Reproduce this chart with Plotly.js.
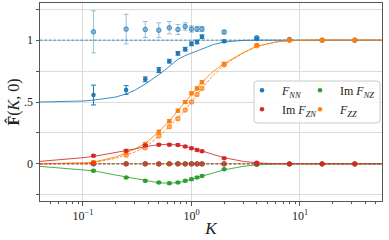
<!DOCTYPE html>
<html><head><meta charset="utf-8">
<script src="https://cdn.plot.ly/plotly-3.0.1.min.js"></script>
<style>html,body{margin:0;padding:0;background:#fff}#c{width:389px;height:240px}</style>
</head><body><div id="c"></div>
<script>
// sample points
var K = [0.125,0.25,0.375,0.5,0.625,0.75,0.875,1.0,1.125,1.25,2,4,8,16,32];
var fnn = [0.556,0.597,0.683,0.758,0.830,0.893,0.927,0.970,0.985,1.027,0.990,1.010,1.000,1.000,1.000];
var fnnErr = [0.08,0.035,0.02,0.02,0.015,0.015,0.015,0.015,0.015,0.015,0.01,0.008,0.005,0.004,0.004];
var fnnAlt = [1.067,1.089,1.086,1.080,1.100,1.086,1.110,1.090,1.090,1.090,1.065,1.020,1.005,1.000,1.000];
var fnnAltErr = [0.17,0.12,0.065,0.06,0.05,0.04,0.03,0.025,0.02,0.02,0.015,0.01,0.006,0.004,0.004];
var fzz = [0.015,0.09,0.16,0.26,0.345,0.43,0.50,0.57,0.61,0.66,0.81,0.96,1.0,1.0,1.0];
var fzzAlt = [0.01,0.07,0.13,0.225,0.30,0.365,0.435,0.50,0.56,0.61,0.80,0.955,1.0,1.0,1.0];
var fzzErr = [0.008,0.01,0.012,0.012,0.012,0.012,0.012,0.012,0.012,0.012,0.01,0.008,0.005,0.004,0.004];
var imfzn = [0.065,0.107,0.148,0.155,0.155,0.153,0.140,0.127,0.113,0.103,0.046,0.010,0.0,0.0,0.0];
var imfznAlt = [0.002,0.0,0.001,0.0,0.0,-0.001,0.0,0.001,0.0,0.0,0.0,0.0,0.0,0.0,0.0];
var imfnz = [-0.056,-0.110,-0.137,-0.150,-0.156,-0.150,-0.137,-0.124,-0.110,-0.097,-0.043,-0.008,0,0,0];
var imfnzAlt = [0.0,0.001,0.0,0.0,0.002,0.003,0.0,0.0,0.0,0.0,0.0,0.0,0,0,0];
var imErr = [0.008,0.008,0.008,0.008,0.008,0.008,0.008,0.008,0.008,0.008,0.006,0.005,0.004,0.004,0.004];

// theory curves
var lineK = [0.04,0.07,0.1,0.125,0.2,0.25,0.3,0.375,0.5,0.6,0.75,0.875,1.0,1.25,1.6,2,3,4,6,8,12,57];
var fnnLine = [0.500,0.502,0.508,0.515,0.540,0.565,0.595,0.645,0.720,0.775,0.845,0.875,0.895,0.930,0.965,0.985,0.998,1.0,1.0,1.0,1.0,1.0];
var fnnAltLine = [1,1,1,1,1,1,1,1,1,1,1,1,1,1,1,1,1,1,1,1,1,1];
var fzzLine = [0.000,0.003,0.008,0.015,0.055,0.090,0.120,0.165,0.260,0.330,0.430,0.500,0.565,0.660,0.750,0.810,0.900,0.950,0.985,0.995,1.0,1.0];
var fzzAltLine = [0.000,0.002,0.005,0.010,0.045,0.070,0.095,0.135,0.220,0.285,0.370,0.435,0.500,0.610,0.720,0.800,0.895,0.950,0.985,0.995,1.0,1.0];
var imfznLine = [0.020,0.035,0.050,0.060,0.090,0.105,0.120,0.140,0.155,0.158,0.153,0.142,0.130,0.105,0.075,0.050,0.020,0.008,0.001,0,0,0];
var imfnzLine = [-0.020,-0.035,-0.047,-0.056,-0.090,-0.105,-0.120,-0.138,-0.153,-0.155,-0.152,-0.140,-0.127,-0.100,-0.072,-0.048,-0.020,-0.008,-0.001,0,0,0];
var zeroLine = [0,0,0,0,0,0,0,0,0,0,0,0,0,0,0,0,0,0,0,0,0,0];

var names = ['<i>F</i><sub><i>NN</i></sub>','Im <i>F</i><sub><i>ZN</i></sub>','Im <i>F</i><sub><i>NZ</i></sub>','<i>F</i><sub><i>ZZ</i></sub>'];
var xTickVals = [0.1,1,10];
var xTickText = ['10<sup>\u22121</sup>','10<sup>0</sup>','10<sup>1</sup>'];
var yTickVals = [0,0.5,1];
var yTickText = ['0','.5','1'];
var yMinorVals = [-0.25,0.25,0.75,1.25];

var C = {b:'#1f77b4', o:'#ff7f0e', g:'#2ca02c', r:'#d62728'};
var CL = {b:'rgba(31,119,180,0.85)', o:'rgba(255,127,14,0.85)', g:'rgba(44,160,44,0.85)', r:'rgba(214,39,40,0.85)'};
var CA = {b:'rgba(31,119,180,0.45)', o:'rgba(255,127,14,0.45)', g:'rgba(44,160,44,0.45)', r:'rgba(214,39,40,0.45)'};

function line(y, c, dash){
  return {x:lineK, y:y, mode:'lines', type:'scatter', showlegend:false, hoverinfo:'skip',
          line:{color:c, width:1, dash:dash?'3px,1.5px':'solid'}};
}
function pts(y, err, c, alt, name, leg){
  var t = {x:K, y:y, mode:'markers', type:'scatter',
    marker:{size:4.5, color: alt ? CA[c] : C[c], line:{width: alt?0.8:0, color:C[c]}},
    error_y:{type:'data', array:err, visible:true, color: alt ? CA[c] : C[c], thickness:1, width:2.5},
    showlegend: !!name};
  if (name){ t.name = name; t.legend = leg; }
  return t;
}

var data = [
  line(fnnAltLine, CL.b, true), line(fnnLine, CL.b, false),
  line(zeroLine, CL.g, true), line(imfnzLine, CL.g, false),
  line(fzzAltLine, CL.o, true), line(fzzLine, CL.o, false),
  line(zeroLine, CL.r, true), line(imfznLine, CL.r, false),
  pts(fnnAlt, fnnAltErr, 'b', true), pts(fnn, fnnErr, 'b', false, names[0], 'legend'),
  pts(imfnzAlt, imErr, 'g', true), pts(imfnz, imErr, 'g', false, names[2], 'legend2'),
  pts(fzzAlt, fzzErr, 'o', true), pts(fzz, fzzErr, 'o', false, names[3], 'legend2'),
  pts(imfznAlt, imErr, 'r', true), pts(imfzn, imErr, 'r', false, names[1], 'legend')
];

var FAM = 'Liberation Serif';
var font = {family:FAM, size:12, color:'#222'};
var legBase = {bgcolor:'rgba(0,0,0,0)', borderwidth:0, orientation:'v', xanchor:'left', yanchor:'top',
  font:{family:FAM, size:12, color:'#222'}, itemwidth:30, tracegroupgap:0};

// rounded legend frame (paper coords)
var bx0 = (254-40)/342, bx1 = (380-40)/342, by0 = (201-123)/198, by1 = (201-81)/198;
var rx = 3/342, ry = 3/198;
var boxPath = 'M'+(bx0+rx)+','+by0+' L'+(bx1-rx)+','+by0+' Q'+bx1+','+by0+' '+bx1+','+(by0+ry)+
  ' L'+bx1+','+(by1-ry)+' Q'+bx1+','+by1+' '+(bx1-rx)+','+by1+' L'+(bx0+rx)+','+by1+
  ' Q'+bx0+','+by1+' '+bx0+','+(by1-ry)+' L'+bx0+','+(by0+ry)+' Q'+bx0+','+by0+' '+(bx0+rx)+','+by0+' Z';

var layout = {
  width:389, height:240,
  margin:{l:40, r:7, t:3, b:39},
  paper_bgcolor:'#fff', plot_bgcolor:'#fff',
  font:font,
  xaxis:{type:'log', range:[-1.396,1.756], tickvals:xTickVals, ticktext:xTickText,
    showgrid:true, gridcolor:'#dcdcdc', gridwidth:1, zeroline:false,
    showline:true, mirror:true, linecolor:'#555', linewidth:1,
    ticks:'outside', ticklen:3.5, tickcolor:'#555', tickfont:{family:FAM, size:12, color:'#222'},
    minor:{tickvals:[0.05,0.06,0.07,0.08,0.09,0.2,0.3,0.4,0.5,0.6,0.7,0.8,0.9,2,3,4,5,6,7,8,9,20,30,40,50],
           ticks:'outside', ticklen:2, tickcolor:'#555', showgrid:false},
    title:{text:'<i>K</i>', font:{family:FAM, size:17, color:'#222'}, standoff:0}},
  yaxis:{range:[-0.3,1.3], tickvals:yTickVals, ticktext:yTickText,
    showgrid:true, gridcolor:'#dcdcdc', gridwidth:1, zeroline:false,
    showline:true, mirror:true, linecolor:'#555', linewidth:1,
    ticks:'outside', ticklen:3.5, tickcolor:'#555', tickfont:{family:FAM, size:12, color:'#222'},
    minor:{tickvals:yMinorVals, ticks:'outside', ticklen:3.5, tickcolor:'#555',
           showgrid:true, gridcolor:'#dcdcdc', gridwidth:1},
    title:{text:'<b>F\u0302</b>(<i>K</i>, 0)', font:{family:FAM, size:16, color:'#222'}, standoff:0}},
  legend: Object.assign({}, legBase, {x:(242-40)/342, y:0.632}),
  legend2: Object.assign({}, legBase, {x:(300-40)/342, y:0.632}),
  shapes:[{type:'path', xref:'paper', yref:'paper', path:boxPath, fillcolor:'rgba(255,255,255,0.8)',
           line:{color:'#cccccc', width:1}, layer:'above'}],
  showlegend:true
};

Plotly.newPlot('c', data, layout, {staticPlot:true, displayModeBar:false});
</script>
</body></html>
